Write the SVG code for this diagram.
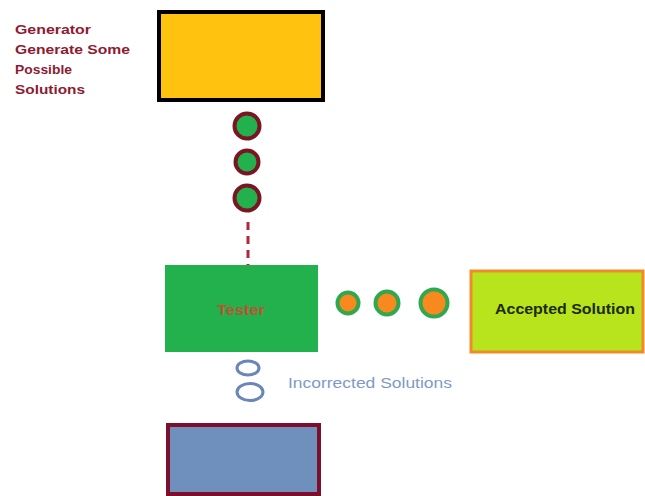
<svg xmlns="http://www.w3.org/2000/svg" width="645" height="496" viewBox="0 0 645 496">
  <style>
    .lbl { font-family: "Liberation Sans", Arial, sans-serif; font-weight: bold; }
    .gen { fill: #8e1b32; font-size: 13.5px; }
    .token { fill: #22b14c; stroke: #7a1524; stroke-width: 4; }
    .ok { fill: #f7891f; stroke: #2fa84f; stroke-width: 4; }
    .bad { fill: none; stroke: #6a86b8; stroke-width: 3; }
  </style>
  <rect width="645" height="496" fill="#ffffff"/>

  <!-- Generator -->
  <g id="generator">
    <rect x="159" y="12" width="164" height="88" fill="#ffc20e" stroke="#000000" stroke-width="4"/>
    <text class="lbl gen" x="15" y="34" textLength="76" lengthAdjust="spacingAndGlyphs">Generator</text>
    <text class="lbl gen" x="15" y="54" textLength="115" lengthAdjust="spacingAndGlyphs">Generate Some</text>
    <text class="lbl gen" x="15" y="74" textLength="57" lengthAdjust="spacingAndGlyphs">Possible</text>
    <text class="lbl gen" x="15" y="94" textLength="70" lengthAdjust="spacingAndGlyphs">Solutions</text>
  </g>

  <!-- Tester -->
  <g id="tester">
    <rect x="165" y="265" width="153" height="87" fill="#22b14c"/>
    <text class="lbl" x="217" y="315" font-size="14" fill="#d8422c" textLength="48" lengthAdjust="spacingAndGlyphs" opacity="0.85">Tester</text>
  </g>

  <!-- Accepted solution -->
  <g id="accepted">
    <rect x="471" y="271" width="172" height="81" fill="#b8e41e" stroke="#f08a2a" stroke-width="3"/>
    <text class="lbl" x="495" y="314" font-size="14" fill="#1b2a05" textLength="140" lengthAdjust="spacingAndGlyphs">Accepted Solution</text>
  </g>

  <!-- Rejected solutions -->
  <g id="rejected">
    <rect x="168" y="425" width="151" height="69" fill="#6f8fbd" stroke="#7d0f2c" stroke-width="4"/>
    <text class="lbl" x="288" y="388" font-size="14" fill="#7f9ac6" textLength="164" lengthAdjust="spacingAndGlyphs" style="font-weight:normal">Incorrected Solutions</text>
  </g>

  <!-- Connectors: solution tokens flowing between stages -->
  <g id="connectors">
    <circle class="token" cx="247" cy="126" r="12.5"/>
    <circle class="token" cx="247" cy="162" r="11.5"/>
    <circle class="token" cx="247" cy="198" r="12.5"/>
    <line x1="248" y1="222" x2="248" y2="265" stroke="#b0283c" stroke-width="3" stroke-dasharray="8 6"/>

    <circle class="ok" cx="348" cy="303" r="10.5"/>
    <circle class="ok" cx="387" cy="303" r="11.5"/>
    <circle class="ok" cx="434" cy="303" r="13.5"/>

    <ellipse class="bad" cx="248" cy="368" rx="11" ry="7"/>
    <ellipse class="bad" cx="250" cy="392" rx="13" ry="8.5"/>
  </g>
</svg>
